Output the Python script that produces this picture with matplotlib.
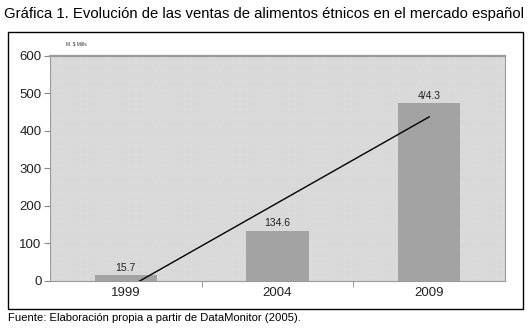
import numpy as np
import matplotlib
matplotlib.use("Agg")
import matplotlib.pyplot as plt
from matplotlib.patches import Rectangle

# data
years = ["1999", "2004", "2009"]
sales = [15.7, 134.6, 474.3]
labels = ["15.7", "134.6", "4/4.3"]
yticks = [0, 100, 200, 300, 400, 500, 600]

TITLE = "Gráfica 1. Evolución de las ventas de alimentos étnicos en el mercado español"
SOURCE = "Fuente: Elaboración propia a partir de DataMonitor (2005)."
UNIT = "M. $ Mills"

plt.rcParams["font.family"] = ["Liberation Sans", "DejaVu Sans"]

fig = plt.figure(figsize=(5.31, 3.30), dpi=100, facecolor="white")

# outer frame round the chart
fig.patches.append(Rectangle((0.015, 0.064), 0.970, 0.839, transform=fig.transFigure,
                             fill=False, edgecolor="black", linewidth=1.0))

fig.text(0.008, 0.958, TITLE, fontsize=10.7, va="center", ha="left")
fig.text(0.015, 0.035, SOURCE, fontsize=8.1, va="center", ha="left")
fig.text(0.125, 0.866, UNIT, fontsize=3.5, va="center", ha="left", color="#333333")

ax = fig.add_axes([0.094, 0.1485, 0.857, 0.682])
ax.set_facecolor("#d9d9d9")

x = np.arange(len(years))
ax.bar(x, sales, width=0.41, color="#a3a3a3", edgecolor="none", zorder=2)
for xi, v, t in zip(x, sales, labels):
    ax.text(xi, v + 6, t, ha="center", va="bottom", fontsize=7.5, color="#222222", zorder=4)

# faint horizontal texture of the plot area
for yy in np.arange(10, 600, 25):
    ax.axhline(yy, color="#dfdfdf", linewidth=0.5, linestyle=(0, (6, 4)), zorder=1)

# linear trend line, clipped at zero
slope, inter = np.polyfit(x, sales, 1)
x0 = max(0, -inter / slope)
tx = np.array([x0, x[-1]])
ax.plot(tx, slope * tx + inter, color="black", linewidth=1.0, zorder=3)

ax.set_xlim(-0.5, 2.5)
ax.set_ylim(0, 600)
ax.set_yticks(yticks)
ax.set_yticklabels([str(t) for t in yticks], fontsize=9.5, color="#222222")
ax.set_xticks(x)
ax.set_xticklabels(years, fontsize=9.5, color="#222222")
ax.set_xticks([0.5, 1.5], minor=True)
ax.tick_params(axis="x", which="major", length=0, pad=4)
ax.tick_params(axis="x", which="minor", length=4, color="#888888")
ax.tick_params(axis="y", length=4, color="#888888", pad=2)

for s in ax.spines.values():
    s.set_color("#9a9a9a")
    s.set_linewidth(0.8)
ax.spines["top"].set_linewidth(1.6)

fig.savefig("out.png", dpi=100, facecolor="white")
